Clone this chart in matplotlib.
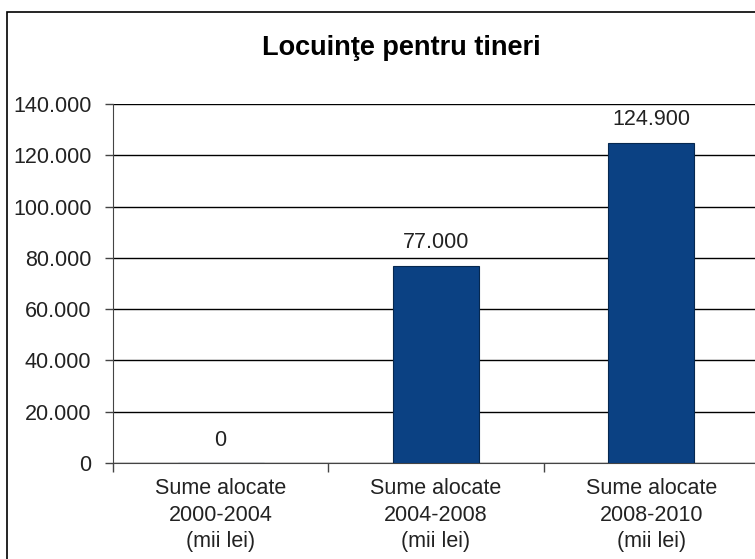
import matplotlib.pyplot as plt
from matplotlib.patches import Rectangle
from matplotlib.ticker import FuncFormatter

# Data
categories = ['Sume alocate\n2000-2004\n(mii lei)',
              'Sume alocate\n2004-2008\n(mii lei)',
              'Sume alocate\n2008-2010\n(mii lei)']
values = [0, 77000, 124900]
value_labels = ['0', '77.000', '124.900']
yticks = [0, 20000, 40000, 60000, 80000, 100000, 120000, 140000]

plt.rcParams['font.family'] = ['Liberation Sans', 'DejaVu Sans']

fig = plt.figure(figsize=(7.55, 5.59), dpi=100)
ax = fig.add_axes([113 / 755, 96 / 559, 646 / 755, 359 / 559])

x = range(len(values))
ax.bar(x, values, width=0.4, color='#0b4183', edgecolor='#06284f', linewidth=0.8, zorder=3)

for xi, v, lab in zip(x, values, value_labels):
    ax.annotate(lab, (xi, v), xytext=(0, 9), textcoords='offset points',
                ha='center', va='bottom', fontsize=15.5, color='#222222')

ax.set_xlim(-0.5, len(values) - 0.5)
ax.set_ylim(0, 140000)
ax.set_yticks(yticks)
ax.yaxis.set_major_formatter(FuncFormatter(lambda v, p: f'{int(v):,}'.replace(',', '.')))
ax.grid(axis='y', color='black', linewidth=1, zorder=0)

# category boundary ticks on x axis
ax.set_xticks([i - 0.5 for i in range(len(values) + 1)])
ax.set_xticklabels([])
ax.set_xticks(list(x), minor=True)
ax.set_xticklabels(categories, minor=True, fontsize=15.5, linespacing=1.35, color='#222222')
ax.tick_params(axis='x', which='minor', length=0, pad=11)
ax.tick_params(axis='x', which='major', length=6.5, width=1, color='#444444')
ax.tick_params(axis='y', length=5.5, width=1, labelsize=15.5, pad=10, color='#444444',
               labelcolor='#222222')

for side in ['top', 'right']:
    ax.spines[side].set_visible(False)
ax.spines['left'].set_color('#444444')
ax.spines['bottom'].set_color('#444444')

fig.text(401 / 755, 1 - 48 / 559, 'Locuinţe pentru tineri',
         ha='center', va='center', fontsize=19.5, fontweight='bold')

# outer chart border (cropped on right and bottom)
fig.patches.append(Rectangle((7 / 755, -0.05), 1.1, 1 - 12 / 559 + 0.05,
                             transform=fig.transFigure, fill=False,
                             edgecolor='black', linewidth=1.2))

plt.savefig('out.png', dpi=100)
